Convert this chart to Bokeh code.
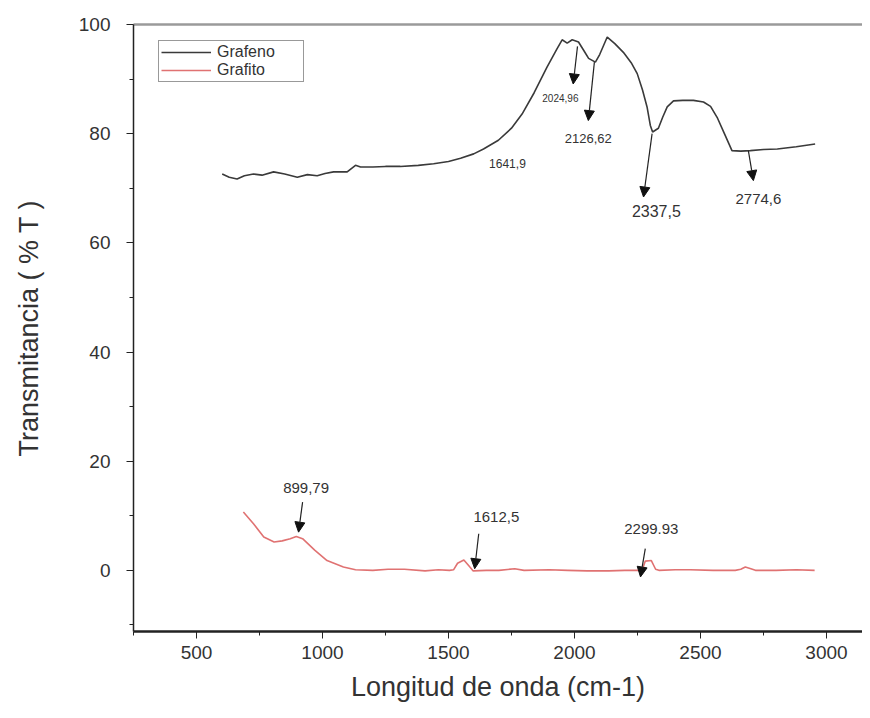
from bokeh.plotting import figure
from bokeh.models import (ColumnDataSource, Range1d, LinearAxis, FixedTicker, Arrow,
                          NormalHead, Legend, LegendItem)
from bokeh.core.properties import value
from bokeh.embed import file_html
from bokeh.resources import INLINE

# ---- data ----
grafeno_x = [602, 630, 661, 690, 726, 760, 806, 850, 900, 940, 979, 1010, 1044, 1098, 1131, 1151,
             1200, 1250, 1309, 1380, 1441, 1500, 1548, 1600, 1639, 1698, 1750, 1792, 1840, 1891,
             1930, 1951, 1971, 1991, 2016, 2040, 2056, 2083, 2100, 2130, 2160, 2194, 2225, 2249,
             2270, 2288, 2301, 2310, 2333, 2350, 2368, 2393, 2430, 2472, 2512, 2540, 2566, 2595,
             2625, 2660, 2698, 2750, 2805, 2880, 2955]
grafeno_y = [72.6, 72.0, 71.7, 72.3, 72.6, 72.4, 73.0, 72.6, 72.0, 72.5, 72.3, 72.7, 73.0, 73.0,
             74.2, 73.9, 73.9, 74.0, 74.0, 74.2, 74.5, 74.9, 75.5, 76.3, 77.2, 78.8, 81.0, 83.6,
             87.5, 92.2, 95.5, 97.2, 96.6, 97.2, 96.8, 95.0, 93.8, 93.1, 94.5, 97.7, 96.5, 94.9,
             93.0, 91.0, 88.0, 84.9, 81.5, 80.3, 81.0, 83.0, 84.9, 86.0, 86.1, 86.1, 85.8, 85.0,
             83.0, 80.0, 76.9, 76.8, 76.9, 77.1, 77.2, 77.6, 78.1]

grafito_x = [686, 727, 767, 808, 840, 872, 896, 921, 969, 1018, 1083, 1131, 1200, 1260, 1325,
             1407, 1460, 1504, 1520, 1536, 1561, 1585, 1598, 1650, 1700, 1763, 1800, 1900, 1973,
             2050, 2136, 2200, 2257, 2270, 2281, 2305, 2322, 2335, 2400, 2459, 2550, 2638, 2660,
             2678, 2700, 2718, 2800, 2880, 2953]
grafito_y = [10.7, 8.5, 6.1, 5.2, 5.4, 5.8, 6.2, 5.8, 3.7, 1.8, 0.6, 0.1, 0.0, 0.2, 0.2, -0.1,
             0.1, 0.0, 0.1, 1.3, 1.9, 0.6, -0.1, 0.0, 0.0, 0.3, 0.0, 0.1, 0.0, -0.1, -0.1, 0.0,
             0.0, 0.2, 1.7, 1.8, 0.2, 0.0, 0.1, 0.1, 0.0, 0.0, 0.2, 0.6, 0.3, 0.0, 0.0, 0.1, 0.0]

peak_labels = ["2024,96", "2126,62", "1641,9", "2337,5", "2774,6", "899,79", "1612,5", "2299.93"]
peak_label_x = [1944, 2055, 1734, 2325, 2730, 935, 1690, 2305]
peak_label_y = [86.6, 79.1, 74.5, 65.9, 68.1, 15.0, 9.8, 7.6]
peak_label_size = ["10px", "13px", "12px", "16px", "15px", "15px", "15px", "15px"]

arrow_x0 = [2012, 2079, 2308, 2690, 921, 1620, 2281]
arrow_y0 = [96.0, 93.1, 80.0, 76.9, 12.5, 6.7, 4.0]
arrow_x1 = [1995, 2055, 2274, 2710, 905, 1604, 2262]
arrow_y1 = [89.1, 82.4, 68.4, 71.4, 7.0, 0.3, -1.2]

x_ticks = [500, 1000, 1500, 2000, 2500, 3000]
x_minor = [250, 750, 1250, 1750, 2250, 2750]
y_ticks = [0, 20, 40, 60, 80, 100]
y_minor = [-10, 10, 30, 50, 70, 90]

FONT = "Liberation Sans"

p = figure(width=862, height=712, output_backend="svg", toolbar_location=None,
           x_range=Range1d(250, 3143), y_range=Range1d(-11.2, 100),
           min_border_left=133, min_border_right=0, min_border_top=24, min_border_bottom=81,
           x_axis_label="Longitud de onda (cm-1)", y_axis_label="Transmitancia ( % T )")
p.grid.visible = False
p.outline_line_color = None
p.background_fill_color = "white"
p.border_fill_color = "white"

p.xaxis.ticker = FixedTicker(ticks=x_ticks, minor_ticks=x_minor)
p.yaxis.ticker = FixedTicker(ticks=y_ticks, minor_ticks=y_minor)

for ax in (p.xaxis[0], p.yaxis[0]):
    ax.axis_line_color = "#222222"
    ax.major_tick_line_color = "#222222"
    ax.minor_tick_line_color = "#222222"
    ax.major_tick_out = 7
    ax.major_tick_in = 0
    ax.minor_tick_out = 4
    ax.minor_tick_in = 0
    ax.major_label_text_font = FONT
    ax.major_label_text_font_size = "19px"
    ax.major_label_text_color = "#333333"
    ax.axis_label_text_font = FONT
    ax.axis_label_text_font_size = "27px"
    ax.axis_label_text_font_style = "normal"
    ax.axis_label_text_color = "#333333"

p.xaxis.axis_line_width = 2.5
p.yaxis.axis_line_width = 1.5
p.xaxis.major_label_standoff = 7
p.yaxis.major_label_standoff = 16
p.xaxis.axis_label_standoff = 10
p.yaxis.axis_label_standoff = 32

top_axis = LinearAxis(ticker=FixedTicker(ticks=[]), axis_line_color="#9a9a9a", axis_line_width=2.5,
                      major_tick_line_color=None, minor_tick_line_color=None,
                      major_label_text_font_size="0px")
p.add_layout(top_axis, "above")

r1 = p.line(grafeno_x, grafeno_y, line_color="#3a3a3a", line_width=1.6)
r2 = p.line(grafito_x, grafito_y, line_color="#e07272", line_width=1.6)

arrows = ColumnDataSource(dict(x0=arrow_x0, y0=arrow_y0, x1=arrow_x1, y1=arrow_y1))
p.add_layout(Arrow(source=arrows, x_start="x0", y_start="y0", x_end="x1", y_end="y1",
                   line_color="#222222", line_width=1.2,
                   end=NormalHead(size=10, fill_color="#111111", line_color="#111111")))

labels = ColumnDataSource(dict(x=peak_label_x, y=peak_label_y, t=peak_labels, s=peak_label_size))
p.text(x="x", y="y", text="t", source=labels, text_font=value(FONT), text_font_size="s",
       text_align="center", text_baseline="middle", text_color="#333333")

legend = Legend(items=[LegendItem(label="Grafeno", renderers=[r1]),
                       LegendItem(label="Grafito", renderers=[r2])],
                location=(25, 549), orientation="vertical",
                label_text_font=FONT, label_text_font_size="16px", label_text_color="#333333",
                glyph_width=50, glyph_height=14, label_height=14, label_width=84,
                label_standoff=6, spacing=0, padding=2, margin=0,
                border_line_color="#333333", border_line_width=1,
                background_fill_alpha=1)
p.add_layout(legend)

open("out.html", "w").write(file_html(p, INLINE))
